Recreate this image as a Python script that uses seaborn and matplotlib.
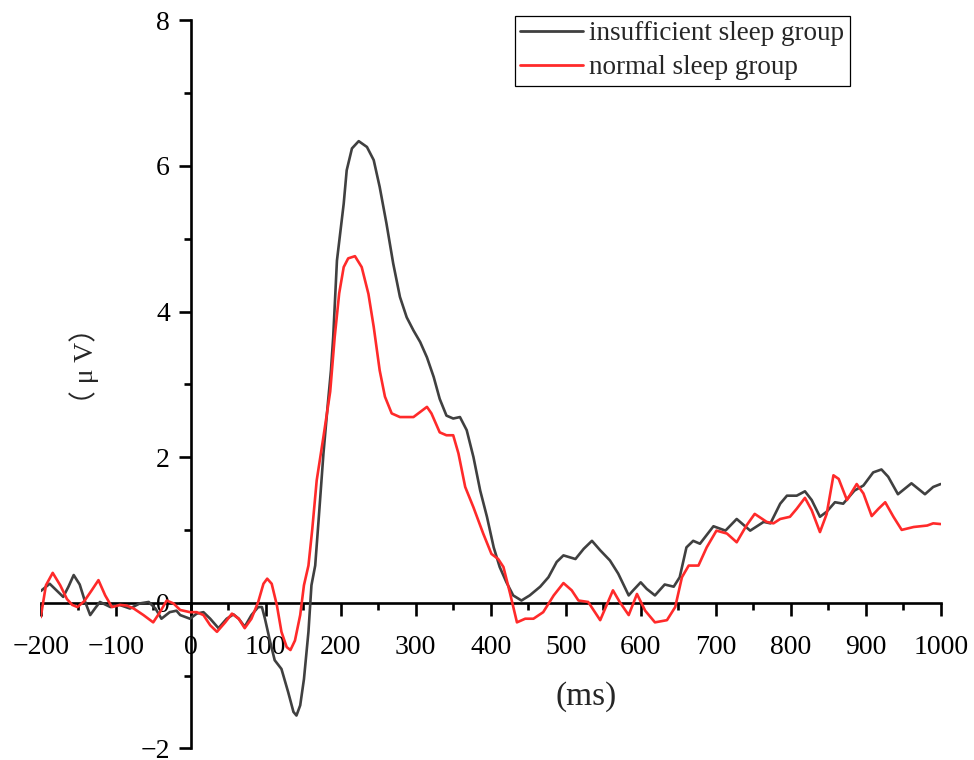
import numpy as np
import pandas as pd
import matplotlib
matplotlib.use("Agg")
import matplotlib.pyplot as plt
import seaborn as sns
from matplotlib.ticker import MultipleLocator

# ---- data ----
groups = ["insufficient sleep group", "normal sleep group"]
colors = ["#404040", "#ff2a2a"]

t_insufficient = [-200, -188, -179, -170, -163, -156, -148, -141, -134, -127, -121, -107, -95,
                  -81, -68, -56, -47, -39, -28, -19, -14, -1, 8, 17, 26, 37, 48, 57, 64, 72, 81,
                  90, 95, 99, 106, 112, 121, 130, 137, 141, 146, 151, 157, 161, 166, 171, 177,
                  183, 187, 190, 195, 204, 208, 215, 224, 235, 244, 252, 261, 270, 279, 288,
                  297, 306, 315, 324, 332, 341, 350, 359, 368, 377, 386, 395, 404, 412, 421,
                  430, 441, 452, 466, 477, 488, 497, 513, 524, 535, 546, 559, 570, 584, 590,
                  600, 608, 619, 632, 644, 652, 661, 670, 679, 697, 713, 728, 746, 764, 773,
                  786, 795, 808, 819, 828, 839, 848, 859, 870, 885, 897, 910, 921, 930, 943,
                  961, 979, 990, 1000]
uv_insufficient = [0.16, 0.26, 0.17, 0.08, 0.22, 0.38, 0.25, 0.02, -0.17, -0.07, 0.01, -0.06,
                   -0.03, -0.08, -0.01, 0.01, -0.08, -0.22, -0.13, -0.11, -0.17, -0.22, -0.15,
                   -0.13, -0.22, -0.35, -0.22, -0.16, -0.22, -0.33, -0.17, -0.06, -0.06, -0.22,
                   -0.54, -0.79, -0.91, -1.23, -1.50, -1.55, -1.41, -1.05, -0.40, 0.24, 0.51,
                   1.20, 2.05, 2.75, 3.19, 3.65, 4.70, 5.48, 5.94, 6.24, 6.34, 6.26, 6.08, 5.71,
                   5.21, 4.66, 4.20, 3.92, 3.74, 3.58, 3.37, 3.10, 2.80, 2.57, 2.53, 2.55, 2.37,
                   2.00, 1.54, 1.18, 0.76, 0.49, 0.28, 0.10, 0.03, 0.10, 0.22, 0.35, 0.56, 0.65,
                   0.60, 0.74, 0.85, 0.72, 0.58, 0.40, 0.10, 0.17, 0.28, 0.19, 0.10, 0.25, 0.22,
                   0.35, 0.76, 0.85, 0.81, 1.05, 0.99, 1.15, 0.99, 1.11, 1.09, 1.36, 1.47, 1.47,
                   1.53, 1.41, 1.18, 1.25, 1.38, 1.36, 1.54, 1.61, 1.79, 1.83, 1.73, 1.49, 1.64,
                   1.49, 1.59, 1.63]

t_normal = [-200, -193, -184, -174, -165, -158, -151, -142, -132, -123, -114, -105, -94, -85,
            -76, -63, -50, -41, -32, -23, -14, -1, 8, 17, 26, 35, 46, 55, 64, 72, 81, 90, 97,
            102, 108, 115, 121, 128, 133, 139, 146, 151, 157, 162, 168, 177, 186, 192, 198, 204,
            210, 219, 228, 237, 244, 252, 259, 268, 279, 297, 306, 315, 321, 332, 341, 350, 357,
            366, 377, 390, 401, 410, 417, 426, 435, 446, 457, 470, 484, 497, 508, 517, 530, 546,
            563, 572, 584, 595, 606, 619, 635, 646, 655, 664, 677, 688, 701, 715, 728, 741, 752,
            768, 777, 786, 799, 808, 819, 828, 839, 848, 857, 864, 875, 888, 897, 908, 917, 926,
            937, 948, 964, 982, 990, 1000]
uv_normal = [-0.20, 0.24, 0.41, 0.24, 0.05, -0.03, -0.06, 0.02, 0.17, 0.31, 0.10, -0.06, -0.03,
             -0.04, -0.08, -0.17, -0.27, -0.13, 0.03, -0.01, -0.10, -0.13, -0.13, -0.17, -0.31,
             -0.40, -0.27, -0.15, -0.22, -0.35, -0.22, 0.01, 0.26, 0.33, 0.26, -0.04, -0.40,
             -0.61, -0.65, -0.52, -0.17, 0.24, 0.51, 1.00, 1.68, 2.28, 2.90, 3.65, 4.25, 4.61,
             4.73, 4.76, 4.61, 4.24, 3.79, 3.19, 2.83, 2.60, 2.55, 2.55, 2.62, 2.69, 2.60, 2.34,
             2.30, 2.30, 2.05, 1.59, 1.31, 0.95, 0.67, 0.60, 0.49, 0.12, -0.27, -0.22, -0.22,
             -0.13, 0.10, 0.27, 0.17, 0.03, 0.01, -0.24, 0.17, 0.01, -0.17, 0.12, -0.11, -0.27,
             -0.24, -0.06, 0.35, 0.51, 0.51, 0.76, 0.99, 0.95, 0.83, 1.06, 1.22, 1.11, 1.09,
             1.15, 1.18, 1.29, 1.44, 1.27, 0.97, 1.22, 1.75, 1.70, 1.41, 1.63, 1.50, 1.19, 1.29,
             1.38, 1.18, 1.00, 1.04, 1.06, 1.09, 1.08]

x_ticks = [-200, -100, 0, 100, 200, 300, 400, 500, 600, 700, 800, 900, 1000]
y_ticks = [-2, 0, 2, 4, 6, 8]
x_label = "(ms)"
y_label = "（ μ V）"

df = pd.concat([
    pd.DataFrame({"time": t_insufficient, "amp": uv_insufficient, "group": groups[0]}),
    pd.DataFrame({"time": t_normal, "amp": uv_normal, "group": groups[1]}),
], ignore_index=True)

# ---- plot ----
sns.set_theme(style="white")
plt.rcParams["font.family"] = ["Liberation Serif", "Noto Sans CJK SC", "DejaVu Sans"]

fig = plt.figure(figsize=(9.74, 7.6), dpi=100)
ax = fig.add_axes([40.7 / 974, 11.7 / 760, 900 / 974, 728 / 760])

sns.lineplot(data=df, x="time", y="amp", hue="group", hue_order=groups,
             palette=dict(zip(groups, colors)), estimator=None, sort=True,
             linewidth=1.9, ax=ax)
for ln in ax.get_lines():
    ln.set_solid_joinstyle("round")
    ln.set_solid_capstyle("round")

ax.set_xlim(-200, 1000)
ax.set_ylim(-2, 8)

for s in ["top", "right"]:
    ax.spines[s].set_visible(False)
ax.spines["left"].set_position(("data", 0))
ax.spines["bottom"].set_position(("data", 0))
for s in ["left", "bottom"]:
    ax.spines[s].set_linewidth(1.9)
    ax.spines[s].set_color("black")
    ax.spines[s].set_zorder(1)

ax.set_xticks(x_ticks)
ax.set_yticks(y_ticks)
ax.xaxis.set_minor_locator(MultipleLocator(50))
ax.yaxis.set_minor_locator(MultipleLocator(1))
ax.tick_params(which="major", direction="out", length=9, width=1.9, color="black",
               labelsize=20, labelcolor="black")
ax.tick_params(which="minor", direction="out", length=5, width=1.9, color="black")
ax.tick_params(axis="x", which="major", pad=14)
ax.tick_params(axis="y", which="major", pad=6)
ax.tick_params(axis="both", which="both", bottom=True, left=True)
ax.set_xticklabels([f"{v:d}".replace("-", "\u2212") for v in x_ticks])
ax.set_yticklabels([f"{v:d}".replace("-", "\u2212") for v in y_ticks])

ax.set_xlabel("")
ax.set_ylabel("")
fig.text(586 / 974, 1 - 697 / 760, x_label, fontsize=24, ha="center", va="center")
fig.text(84 / 974, 1 - 366 / 760, y_label, fontsize=20, rotation=90,
         ha="center", va="center")

handles, labels = ax.get_legend_handles_labels()
ax.legend(handles, labels, loc="upper left", bbox_to_anchor=(515 / 974, 1 - 16 / 760),
          bbox_transform=fig.transFigure, fontsize=19.5, frameon=True, fancybox=False,
          edgecolor="black", framealpha=1, borderpad=0.2, labelspacing=0.32,
          handlelength=2.3, handletextpad=0.25, borderaxespad=0.0)
ax.get_legend().get_frame().set_linewidth(0.9)
for line in ax.get_legend().get_lines():
    line.set_linewidth(2.0)

fig.savefig("out.png", dpi=100, facecolor="white")
